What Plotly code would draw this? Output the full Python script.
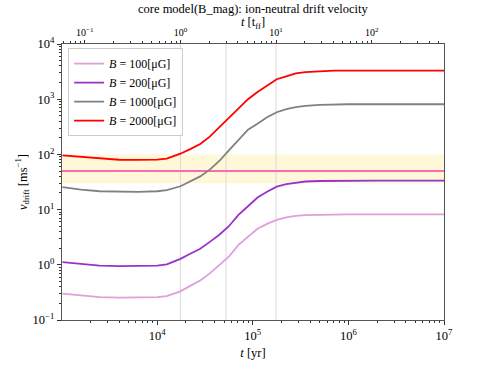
import plotly.graph_objects as go
import math

# ---- data ----
t_yr = [1.02e3, 1.6e3, 2.5e3, 4.0e3, 6.3e3, 1.0e4, 1.26e4, 1.75e4, 2.24e4, 2.82e4,
        3.55e4, 4.47e4, 5.62e4, 7.08e4, 8.91e4, 1.12e5, 1.41e5, 1.78e5, 2.24e5,
        2.82e5, 3.55e5, 5.0e5, 7.08e5, 1.0e6, 2.0e6, 4.0e6, 1.0e7]
v_B100 = [0.30, 0.275, 0.26, 0.255, 0.255, 0.26, 0.27, 0.33, 0.42, 0.52, 0.70, 0.98,
          1.4, 2.3, 3.2, 4.5, 5.5, 6.5, 7.2, 7.7, 7.95, 8.1, 8.15, 8.2, 8.2, 8.2, 8.2]
v_B200 = [1.12, 1.03, 0.97, 0.95, 0.95, 0.97, 1.02, 1.28, 1.6, 1.95, 2.6, 3.5,
          5.0, 8.0, 11.5, 16.5, 21, 26, 29, 31, 32.3, 33, 33.3, 33.5, 33.5, 33.5, 33.5]
v_B1000 = [25.5, 23, 21.5, 21, 21, 21.5, 22.5, 26.5, 33, 40, 53, 76,
           118, 180, 280, 360, 470, 580, 660, 720, 760, 790, 805, 810, 810, 810, 810]
v_B2000 = [96, 90, 83, 80, 79.5, 80.5, 84, 103, 126, 154, 210, 310,
           460, 680, 1000, 1350, 1780, 2300, 2600, 2950, 3100, 3220, 3280, 3300, 3300, 3300, 3300]
series_names = ["<i>B</i> = 100[μG]", "<i>B</i> = 200[μG]", "<i>B</i> = 1000[μG]", "<i>B</i> = 2000[μG]"]
series_colors = ["#dda0dd", "#9932cc", "#808080", "#ff0000"]

t_ff = 1.75e4            # free-fall time in yr
marker_tff = [1, 3, 10]  # vertical reference lines in units of t_ff
v_ref = 50               # reference drift velocity
v_band = [30, 100]       # shaded band
x_lim = [1.01e3, 1.0e7]
y_lim = [0.1, 1.0e4]

bottom_ticks = [1e4, 1e5, 1e6, 1e7]
bottom_text = ["10<sup>4</sup>", "10<sup>5</sup>", "10<sup>6</sup>", "10<sup>7</sup>"]
top_ticks = [0.1, 1, 10, 100]
top_text = ["10<sup>−1</sup>", "10<sup>0</sup>", "10<sup>1</sup>", "10<sup>2</sup>"]
y_ticks = [0.1, 1, 10, 100, 1000, 10000]
y_text = ["10<sup>−1</sup>", "10<sup>0</sup>", "10<sup>1</sup>", "10<sup>2</sup>", "10<sup>3</sup>", "10<sup>4</sup>"]


def minor_vals(lo, hi):
    out = []
    for e in range(int(math.floor(math.log10(lo))) - 1, int(math.ceil(math.log10(hi))) + 1):
        for m in range(2, 10):
            v = m * 10 ** e
            if lo <= v <= hi:
                out.append(v)
    return out

FONT = "Liberation Serif"
PLOT_H = 370 - 44 - 41

fig = go.Figure()

# band
fig.add_trace(go.Scatter(x=[x_lim[0], x_lim[1], x_lim[1], x_lim[0], x_lim[0]],
                         y=[v_band[0], v_band[0], v_band[1], v_band[1], v_band[0]],
                         fill="toself", fillcolor="rgba(255,243,190,0.6)", mode="none",
                         showlegend=False, hoverinfo="skip"))
# vertical lines
for m in marker_tff:
    fig.add_trace(go.Scatter(x=[m * t_ff, m * t_ff], y=y_lim, mode="lines",
                             line=dict(color="#d9d9d9", width=1), showlegend=False, hoverinfo="skip"))
# reference line
fig.add_trace(go.Scatter(x=x_lim, y=[v_ref, v_ref], mode="lines",
                         line=dict(color="#ff69b4", width=2), showlegend=False, hoverinfo="skip"))

for name, vals, col in zip(series_names, [v_B100, v_B200, v_B1000, v_B2000], series_colors):
    fig.add_trace(go.Scatter(x=t_yr, y=vals, mode="lines", name=name,
                             line=dict(color=col, width=1.8)))

# invisible trace for top axis
fig.add_trace(go.Scatter(x=[x_lim[0] / t_ff, x_lim[1] / t_ff], y=[1, 1], xaxis="x2",
                         mode="lines", line=dict(width=0), opacity=0, showlegend=False, hoverinfo="skip"))

fig.update_layout(
    width=493, height=370,
    margin=dict(l=62, r=49, t=44, b=41),
    paper_bgcolor="white", plot_bgcolor="white",
    font=dict(family=FONT, size=12, color="black"),
    annotations=[
        dict(text="core model(B_mag): ion-neutral drift velocity", xref="paper", yref="paper",
             x=0.5, y=1 + 36.0 / PLOT_H, xanchor="center", yanchor="middle",
             showarrow=False, font=dict(size=12.5)),
        dict(text="<i>t</i> [t<sub>ff</sub>]", xref="paper", yref="paper",
             x=0.5, y=1 + 22.0 / PLOT_H, xanchor="center", yanchor="middle",
             showarrow=False, font=dict(size=12.5)),
    ],
    showlegend=True,
    legend=dict(x=0.016, y=0.985, xanchor="left", yanchor="top",
                bordercolor="#cccccc", borderwidth=1, bgcolor="rgba(255,255,255,0.85)",
                font=dict(size=12, family=FONT), tracegroupgap=0, itemwidth=30),
    xaxis=dict(type="log", range=[math.log10(x_lim[0]), math.log10(x_lim[1])],
               tickmode="array", tickvals=bottom_ticks, ticktext=bottom_text,
               ticks="outside", ticklen=4, tickcolor="#333",
               minor=dict(tickmode="array", tickvals=minor_vals(x_lim[0], x_lim[1]),
                          ticks="outside", ticklen=2, tickcolor="#333", showgrid=False),
               showgrid=False, zeroline=False, showline=True, linecolor="#555", linewidth=1.2,
               mirror=True, tickfont=dict(size=12.5),
               title=dict(text="<i>t</i> [yr]", standoff=6, font=dict(size=12.5))),
    xaxis2=dict(type="log", overlaying="x", side="top", anchor="y",
                range=[math.log10(x_lim[0] / t_ff), math.log10(x_lim[1] / t_ff)],
                tickmode="array", tickvals=top_ticks, ticktext=top_text,
                ticks="outside", ticklen=3, tickcolor="#333",
                minor=dict(tickmode="array", tickvals=minor_vals(x_lim[0] / t_ff, x_lim[1] / t_ff),
                           ticks="outside", ticklen=2, tickcolor="#333", showgrid=False),
                showgrid=False, zeroline=False, showline=False, tickfont=dict(size=10)),
    yaxis=dict(type="log", range=[math.log10(y_lim[0]), math.log10(y_lim[1])],
               tickmode="array", tickvals=y_ticks, ticktext=y_text,
               ticks="outside", ticklen=4, tickcolor="#333",
               minor=dict(tickmode="array", tickvals=minor_vals(y_lim[0], y_lim[1]),
                          ticks="outside", ticklen=2, tickcolor="#333", showgrid=False),
               showgrid=False, zeroline=False, showline=True, linecolor="#555", linewidth=1.2,
               mirror=True, tickfont=dict(size=12.5),
               title=dict(text="<i>v</i><sub>drift</sub> [ms<sup>−1</sup>]", standoff=2,
                          font=dict(size=12.5))),
)

fig.write_html("out.html", config={"displayModeBar": False},
               post_script="document.body.style.margin='0';")
